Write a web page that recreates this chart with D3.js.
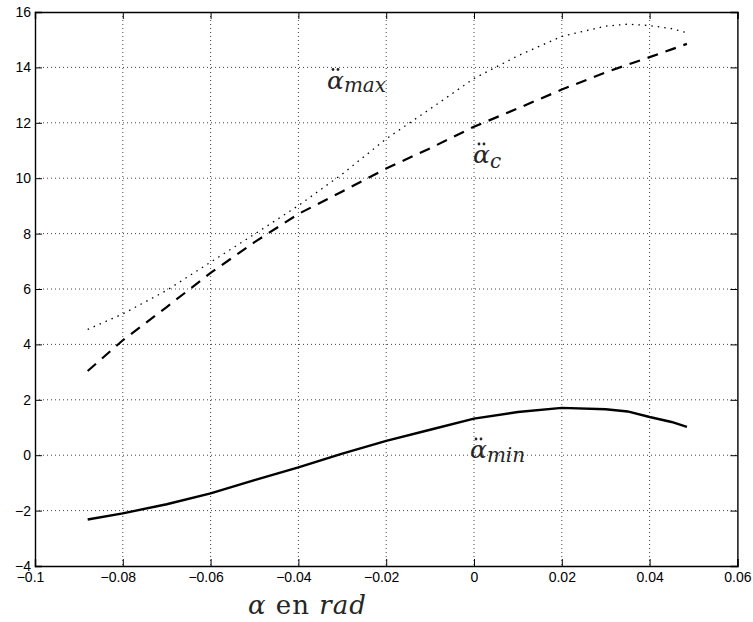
<!DOCTYPE html>
<html>
<head>
<meta charset="utf-8">
<script src="https://cdn.jsdelivr.net/npm/d3@7"></script>
<style>
  body { margin: 0; background: #fff; }
  .math { font-family: "DejaVu Serif", "Liberation Serif", serif; fill: #262626; }
</style>
</head>
<body>
<div id="chart"></div>
<script>
// alpha (rad) on x, three acceleration bounds on y
var alpha = [-0.088, -0.08, -0.07, -0.06, -0.05, -0.04, -0.03, -0.02, -0.01, 0, 0.01, 0.02, 0.03, 0.035, 0.04, 0.045, 0.0485];
var accMax = [4.54, 5.10, 5.95, 6.97, 7.98, 9.01, 10.15, 11.42, 12.5, 13.6, 14.42, 15.12, 15.49, 15.56, 15.51, 15.4, 15.25];
var accC   = [3.04, 4.15, 5.35, 6.58, 7.69, 8.71, 9.52, 10.35, 11.08, 11.86, 12.52, 13.2, 13.82, 14.1, 14.37, 14.65, 14.85];
var accMin = [-2.32, -2.10, -1.77, -1.38, -0.9, -0.44, 0.06, 0.52, 0.92, 1.32, 1.56, 1.71, 1.66, 1.58, 1.38, 1.2, 1.02];

var xTicks = [-0.1, -0.08, -0.06, -0.04, -0.02, 0, 0.02, 0.04, 0.06];
var yTicks = [-4, -2, 0, 2, 4, 6, 8, 10, 12, 14, 16];

var margin = { top: 12, left: 35, right: 15.6, bottom: 56 };
var width = 753 - margin.left - margin.right;
var height = 622 - margin.top - margin.bottom;

var svg = d3.select("#chart")
            .append("svg")
            .attr("width", 753)
            .attr("height", 622)
            .append("g")
            .attr("transform", "translate(" + margin.left + "," + margin.top + ")");

var x = d3.scaleLinear().domain([-0.1, 0.06]).range([0, width]);
var y = d3.scaleLinear().domain([-4, 16]).range([height, 0]);

var fmt = function (d) {
  var s = d3.format("")(d);
  return s.replace("-", "\u2013");
};

// grid
svg.selectAll(".vgrid")
   .data(xTicks.slice(1, -1))
   .enter().append("line")
   .attr("x1", function (d) { return x(d); })
   .attr("x2", function (d) { return x(d); })
   .attr("y1", 0).attr("y2", height)
   .attr("stroke", "#444").attr("stroke-width", 1)
   .attr("stroke-dasharray", "1,3");

svg.selectAll(".hgrid")
   .data(yTicks.slice(1, -1))
   .enter().append("line")
   .attr("y1", function (d) { return y(d); })
   .attr("y2", function (d) { return y(d); })
   .attr("x1", 0).attr("x2", width)
   .attr("stroke", "#444").attr("stroke-width", 1)
   .attr("stroke-dasharray", "1,3");

// axes (inward ticks on all four sides, like matlab)
var xBottom = d3.axisBottom(x).tickValues(xTicks).tickSize(-7).tickFormat(fmt);
var xTop = d3.axisTop(x).tickValues(xTicks).tickSize(-7).tickFormat("");
var yLeft = d3.axisLeft(y).tickValues(yTicks).tickSize(-7).tickFormat(fmt);
var yRight = d3.axisRight(y).tickValues(yTicks).tickSize(-7).tickFormat("");

var gx = svg.append("g").attr("transform", "translate(0," + height + ")").call(xBottom);
svg.append("g").call(xTop);
var gy = svg.append("g").call(yLeft);
svg.append("g").attr("transform", "translate(" + width + ",0)").call(yRight);

gx.attr("font-size", 14).attr("font-family", "Liberation Sans, Arial, sans-serif");
gy.attr("font-size", 14).attr("font-family", "Liberation Sans, Arial, sans-serif");

svg.selectAll(".domain").attr("stroke", "#000").attr("stroke-width", 1.4);
svg.selectAll(".tick line").attr("stroke", "#000").attr("stroke-width", 1);

gx.selectAll("text")
  .attr("fill", "#000")
  .attr("y", 6)
  .attr("dx", function (d) { return d < 0 ? -5 : 0; });
gy.selectAll("text")
  .attr("fill", "#000")
  .attr("x", -4);

// curves
var line = d3.line()
  .x(function (d) { return x(d[0]); })
  .y(function (d) { return y(d[1]); });

svg.append("path")
   .datum(d3.zip(alpha, accMax))
   .attr("d", line)
   .attr("fill", "none")
   .attr("stroke", "#000")
   .attr("stroke-width", 1.3)
   .attr("stroke-dasharray", "1.5,5");

svg.append("path")
   .datum(d3.zip(alpha, accC))
   .attr("d", line)
   .attr("fill", "none")
   .attr("stroke", "#000")
   .attr("stroke-width", 2.2)
   .attr("stroke-dasharray", "11,8");

svg.append("path")
   .datum(d3.zip(alpha, accMin))
   .attr("d", line)
   .attr("fill", "none")
   .attr("stroke", "#000")
   .attr("stroke-width", 2.4);

// curve labels: alpha with double dot, then subscript
var labels = [
  { name: "max", x: 327 - margin.left, y: 88.5 - margin.top, dy: 3 },
  { name: "c",   x: 473 - margin.left, y: 163 - margin.top, dy: 5 },
  { name: "min", x: 470 - margin.left, y: 458 - margin.top, dy: 4 }
];

labels.forEach(function (l) {
  var t = svg.append("text")
    .attr("class", "math")
    .attr("x", l.x)
    .attr("y", l.y)
    .style("font-style", "italic");
  t.append("tspan").style("font-size", "25px").text("\u03b1");
  t.append("tspan").style("font-size", "20px").attr("dy", l.dy).text(l.name);
  // the two accent dots
  svg.selectAll(null)
    .data([6, 11])
    .enter().append("circle")
    .attr("cx", function (d) { return l.x + d; })
    .attr("cy", l.y - 19)
    .attr("r", 1.4)
    .attr("fill", "#262626");
});

// x axis title
var xt = svg.append("text")
  .attr("class", "math")
  .attr("x", 248 - margin.left)
  .attr("y", 614 - margin.top)
  .style("font-size", "26px")
  .style("letter-spacing", "1px");
xt.append("tspan").style("font-style", "italic").text("\u03b1");
xt.append("tspan").text(" en ");
xt.append("tspan").style("font-style", "italic").text("rad");
</script>
</body>
</html>
